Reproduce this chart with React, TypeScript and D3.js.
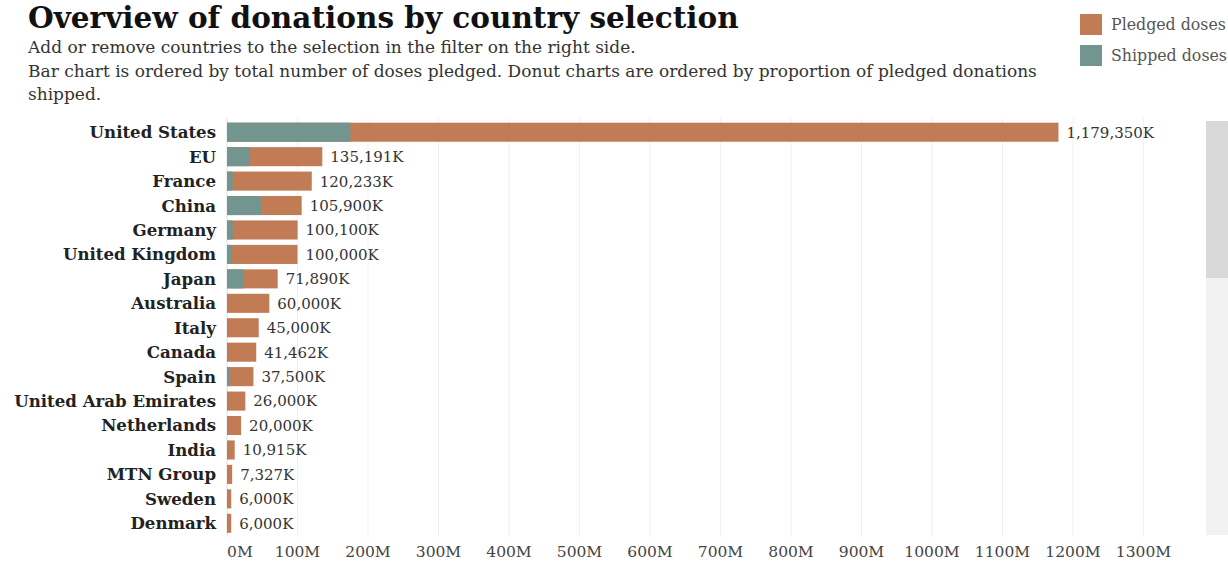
import React from "react";
import * as d3 from "d3";

const countries = [
  "United States", "EU", "France", "China", "Germany", "United Kingdom", "Japan",
  "Australia", "Italy", "Canada", "Spain", "United Arab Emirates", "Netherlands",
  "India", "MTN Group", "Sweden", "Denmark",
];
// thousands of doses
const pledged = [1179350, 135191, 120233, 105900, 100100, 100000, 71890, 60000, 45000, 41462, 37500, 26000, 20000, 10915, 7327, 6000, 6000];
const shipped = [175000, 32000, 8000, 48000, 8000, 6000, 23000, 1200, 1000, 1000, 4500, 800, 800, 600, 400, 400, 400];
const tickValues = [0, 100, 200, 300, 400, 500, 600, 700, 800, 900, 1000, 1100, 1200, 1300];

const title = "Overview of donations by country selection";
const subtitle = [
  "Add or remove countries to the selection in the filter on the right side.",
  "Bar chart is ordered by total number of doses pledged. Donut charts are ordered by proportion of pledged donations",
  "shipped.",
];
const legendItems = ["Pledged doses", "Shipped doses"];

const PLEDGED = "#c17b55";
const SHIPPED = "#72968f";
const FONT = "'DejaVu Serif', Georgia, serif";

export default function App() {
  const W = 1228, H = 563;
  const x = d3.scaleLinear().domain([0, 1300000]).range([227, 1143.5]);
  const y = d3.scaleBand().domain(countries).range([120, 535.5]).paddingInner(0.22).paddingOuter(0.11);
  const fmt = d3.format(",");
  const legendColors = [PLEDGED, SHIPPED];
  return (
    <div>
      <style>{`body{margin:0}`}</style>
      <svg width={W} height={H} style={{ display: "block", fontFamily: FONT }}>
        <rect width={W} height={H} fill="#fff" />
        <text x={28} y={28} fontSize={29.5} fontWeight="bold" fill="#111">{title}</text>
        {subtitle.map((s, i) => (
          <text key={i} x={28} y={53 + i * 23.5} fontSize={17} fill="#333">{s}</text>
        ))}
        {legendItems.map((s, i) => (
          <g key={s}>
            <rect x={1080} y={14 + i * 31} width={22} height={21} fill={legendColors[i]} />
            <text x={1111} y={30 + i * 31} fontSize={15.8} fill="#555">{s}</text>
          </g>
        ))}
        {/* scrollbar */}
        <rect x={1206} y={121} width={22} height={414} fill="#f2f2f2" />
        <rect x={1206} y={121} width={22} height={157} fill="#d9d9d9" />
        {/* gridlines */}
        {tickValues.map((t) => (
          <line key={t} x1={x(t * 1000)} x2={x(t * 1000)} y1={118} y2={537} stroke={t === 0 ? "#e0e0e0" : "#f0f0f0"} strokeWidth={1} />
        ))}
        {countries.map((c, i) => {
          const yy = y(c)!;
          const bh = y.bandwidth();
          return (
            <g key={c}>
              <text x={216} y={yy + bh / 2} dy="0.36em" textAnchor="end" fontSize={16.6} fontWeight="bold" fill="#222">{c}</text>
              <rect x={x(0)} y={yy} width={x(pledged[i]) - x(0)} height={bh} fill={PLEDGED} />
              <rect x={x(0)} y={yy} width={x(shipped[i]) - x(0)} height={bh} fill={SHIPPED} />
              <text x={x(pledged[i]) + 8} y={yy + bh / 2} dy="0.36em" fontSize={15} fill="#333">{fmt(pledged[i])}K</text>
            </g>
          );
        })}
        {tickValues.map((t, i) => (
          <text key={t} x={i === 0 ? x(0) : x(t * 1000)} y={557} textAnchor={i === 0 ? "start" : "middle"} fontSize={15.5} fill="#444">{t}M</text>
        ))}
      </svg>
    </div>
  );
}
